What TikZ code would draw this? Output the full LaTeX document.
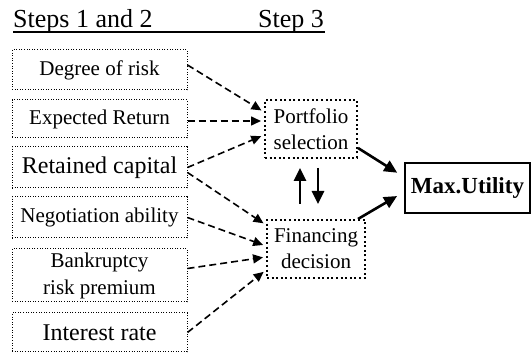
\documentclass[tikz,border=0pt]{standalone}
\usepackage{fontspec}
\setmainfont{Liberation Serif}
\usetikzlibrary{arrows.meta}

\begin{document}
\begin{tikzpicture}[x=1pt, y=-1pt,
    factor/.style={draw, line width=1pt, dash pattern=on 1pt off 1.6pt, inner sep=0pt,
        minimum width=175pt, align=center, font=\fontsize{21}{27}\selectfont},
    choice/.style={draw, line width=2pt, dash pattern=on 2pt off 2.6pt, inner sep=0pt,
        minimum height=58pt, align=center, font=\fontsize{21}{26}\selectfont},
    feed/.style={-{Triangle[length=10pt,width=9pt]}, line width=1.6pt,
        dash pattern=on 7pt off 4pt, shorten >=3pt},
    lead/.style={-{Triangle[length=13pt,width=12pt]}, line width=2.6pt}]
    \useasboundingbox (0,0) rectangle (531,355);

    % Headings
    \node[anchor=base west, inner sep=0pt, font=\fontsize{26}{30}\selectfont] (steps) at (13,28) {Steps 1 and 2};
    \node[anchor=base east, inner sep=0pt, font=\fontsize{26}{30}\selectfont] (step3) at (324,28) {Step 3};
    \draw[line width=1.8pt] ([yshift=-4pt]steps.base west) -- ([xshift=1pt,yshift=-4pt]step3.base east);

    % Factors of steps 1 and 2
    \node[factor, minimum height=40pt] (degree) at (99.5,70) {Degree of risk};
    \node[factor, minimum height=38pt] (expret) at (99.5,119) {Expected Return};
    \node[factor, minimum height=41pt, font=\fontsize{24}{28}\selectfont] (retcap) at (99.5,167.5) {Retained capital};
    \node[factor, minimum height=41pt] (negot) at (99.5,217.5) {Negotiation ability};
    \node[factor, minimum height=53pt] (bankr) at (99.5,275.5) {Bankruptcy\\risk premium};
    \node[factor, minimum height=39pt, font=\fontsize{24}{28}\selectfont] (intrate) at (99.5,332.5) {Interest rate};

    % Step 3
    \node[choice, minimum width=92pt] (port) at (311,129) {Portfolio\\selection};
    \node[choice, minimum width=98pt] (fin) at (316,249) {Financing\\decision};
    \node[draw, line width=2pt, inner sep=0pt, minimum width=125pt, minimum height=50pt,
        font=\fontsize{23}{27}\selectfont\bfseries] (maxu) at (467.5,188) {Max.Utility};

    % Dashed links into step 3
    \draw[feed] ([yshift=5pt]degree.east) -- ([yshift=17pt]port.west);
    \draw[feed] ([yshift=-2pt]expret.east) -- ([yshift=8pt]port.west);
    \draw[feed] (retcap.east) -- ([yshift=-6pt]port.west);
    \draw[feed] ([yshift=-5pt]retcap.east) -- ([yshift=24pt]fin.west);
    \draw[feed] (negot.east) -- ([yshift=3pt]fin.west);
    \draw[feed] ([yshift=7pt]bankr.east) -- ([yshift=-8pt]fin.west);
    \draw[feed] (intrate.east) -- ([yshift=-21pt]fin.west);

    % Feedback between the two choices
    \draw[lead, shorten <=15pt, shorten >=9pt] ([xshift=-16pt]fin.north) -- ([xshift=-16pt]fin.north |- port.south);
    \draw[lead, shorten <=9pt, shorten >=15pt] ([xshift=2pt]fin.north |- port.south) -- ([xshift=2pt]fin.north);

    % Solid links to the utility
    \draw[lead, shorten >=8pt] ([yshift=-19pt]port.east) -- ([yshift=11pt]maxu.west);
    \draw[lead, shorten >=8pt] ([xshift=-8pt]fin.north east) -- ([yshift=-4pt]maxu.west);
\end{tikzpicture}
\end{document}
